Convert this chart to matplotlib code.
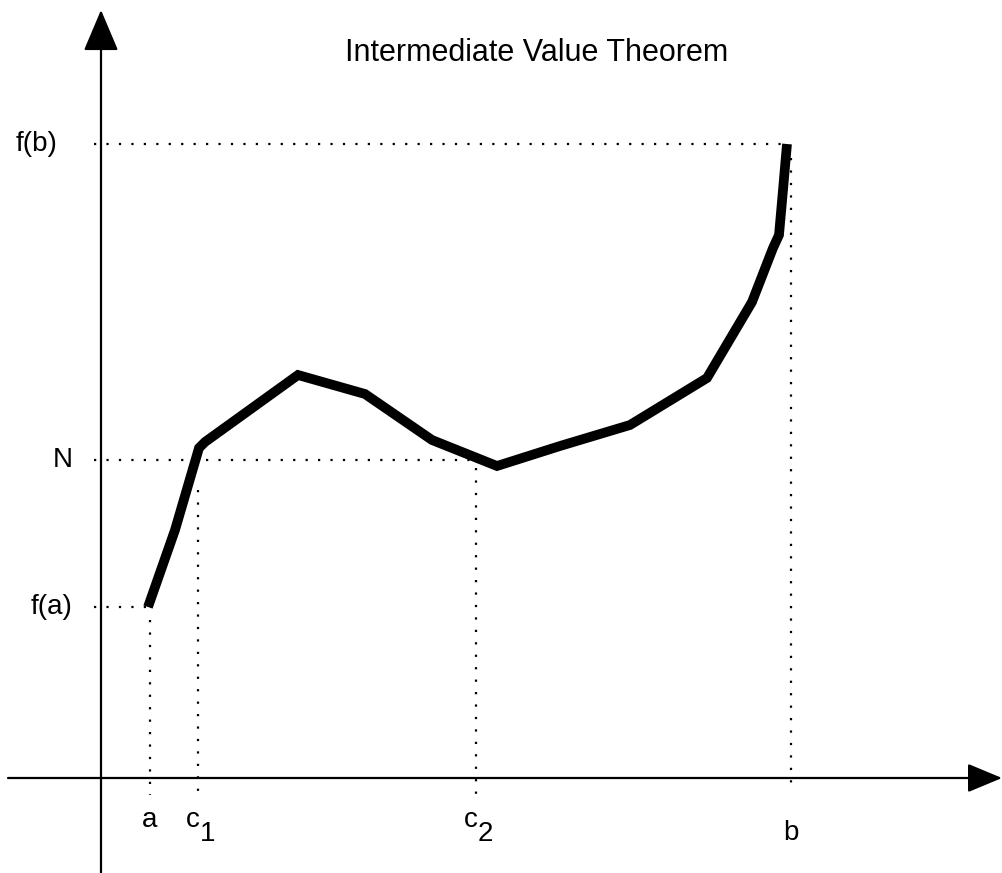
import matplotlib
matplotlib.use("Agg")
import matplotlib.pyplot as plt

# Data (in picture coordinates)
curve_x = [148, 175, 199, 205, 298, 365, 432, 497, 560, 630, 707, 752, 773, 779, 783, 787]
curve_y = [607, 530, 448, 442, 375, 394, 440, 466, 446, 425, 378, 302, 248, 235, 190, 144]

y_labels = ["f(b)", "N", "f(a)"]
y_levels = [144, 460, 607]
y_label_right = [58, 73, 73]
y_guide_end = [786, 492, 147]

x_labels = ["a", "c", "c", "b"]
x_subs = ["", "1", "2", ""]
x_levels = [150, 198, 476, 791]
x_label_base = [827, 827, 827, 840]
x_guide_start = [620, 490, 468, 158]
x_guide_end = [795, 800, 795, 784]

title = "Intermediate Value Theorem"

origin_x, origin_y = 101, 778

plt.rcParams['font.family'] = ['Liberation Sans', 'DejaVu Sans']
fig = plt.figure(figsize=(10.03, 8.73), dpi=100)
ax = fig.add_axes([0, 0, 1, 1])
ax.set_xlim(0, 1003)
ax.set_ylim(873, 0)
ax.axis('off')

# axes with arrows
ax.annotate('', xy=(origin_x, 10), xytext=(origin_x, 873),
            arrowprops=dict(arrowstyle='-|>,head_length=1.3,head_width=0.55', lw=1.6,
                            color='black', mutation_scale=20, shrinkA=0, shrinkB=0))
ax.annotate('', xy=(1002, origin_y), xytext=(8, origin_y),
            arrowprops=dict(arrowstyle='-|>,head_length=1.2,head_width=0.5', lw=1.6,
                            color='black', mutation_scale=18, shrinkA=0, shrinkB=0))

# dotted guides
dots = (0, (1, 4.6))
for lvl, xe in zip(y_levels, y_guide_end):
    ax.plot([94, xe], [lvl, lvl], linestyle=dots, color='black', lw=1.6)
for xv, ys, ye in zip(x_levels, x_guide_start, x_guide_end):
    ax.plot([xv, xv], [ys, ye], linestyle=dots, color='black', lw=1.6)

# curve
ax.plot(curve_x, curve_y, color='black', lw=7, solid_joinstyle='miter', solid_capstyle='butt')

# labels
for lab, lvl, xr in zip(y_labels, y_levels, y_label_right):
    ax.text(xr, lvl, lab, ha='right', va='center', fontsize=20)
for lab, sub, xv, yb in zip(x_labels, x_subs, x_levels, x_label_base):
    if sub:
        ax.text(xv + 2, yb, lab, ha='right', va='baseline', fontsize=20)
        ax.text(xv + 2, yb + 14, sub, ha='left', va='baseline', fontsize=20)
    else:
        ax.text(xv, yb, lab, ha='center', va='baseline', fontsize=20)

ax.text(537, 53, title, ha='center', va='center', fontsize=22)

fig.savefig("out.png", dpi=100)
